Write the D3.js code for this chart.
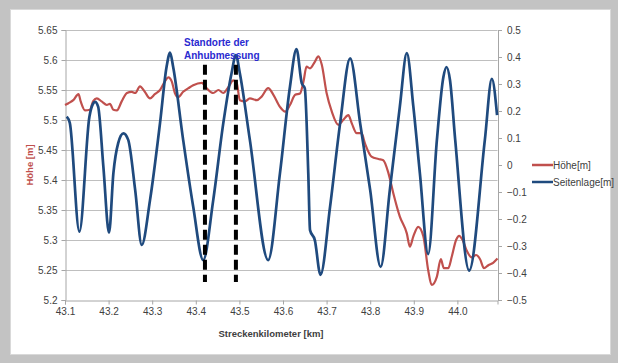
<!DOCTYPE html>
<html>
<head>
<meta charset="utf-8">
<script src="https://cdn.jsdelivr.net/npm/d3@7"></script>
<style>
  body { margin: 0; background: #c3c3c3; }
  svg { display: block; font-family: 'Liberation Sans', Arial, sans-serif; }
</style>
</head>
<body>
<div id="chart"></div>
<script>
// Höhe [m] (left axis) - km / value pairs
const hoeheKm = [43.100, 43.108, 43.119, 43.131, 43.136, 43.146, 43.157, 43.165, 43.173, 43.184,
  43.196, 43.203, 43.211, 43.219, 43.230, 43.242, 43.253, 43.261, 43.272, 43.283,
  43.295, 43.306, 43.318, 43.329, 43.337, 43.345, 43.352, 43.360, 43.371, 43.383,
  43.394, 43.414, 43.425, 43.440, 43.452, 43.463, 43.475, 43.486, 43.494, 43.501,
  43.513, 43.524, 43.540, 43.551, 43.566, 43.578, 43.593, 43.605, 43.616, 43.628,
  43.639, 43.647, 43.654, 43.662, 43.673, 43.681, 43.689, 43.700, 43.712, 43.727,
  43.738, 43.750, 43.758, 43.769, 43.780, 43.788, 43.803, 43.819, 43.830, 43.842,
  43.853, 43.868, 43.884, 43.891, 43.899, 43.910, 43.922, 43.933, 43.941, 43.953,
  43.962, 43.969, 43.979, 43.987, 43.997, 44.004, 44.012, 44.021, 44.033, 44.043,
  44.052, 44.061, 44.071, 44.082, 44.092];
const hoeheVal = [5.525, 5.528, 5.533, 5.543, 5.531, 5.516, 5.517, 5.532, 5.536, 5.531,
  5.525, 5.527, 5.517, 5.516, 5.531, 5.545, 5.547, 5.545, 5.556, 5.547,
  5.536, 5.543, 5.550, 5.564, 5.571, 5.564, 5.545, 5.538, 5.547, 5.553,
  5.558, 5.562, 5.553, 5.545, 5.550, 5.545, 5.555, 5.566, 5.561, 5.533,
  5.531, 5.536, 5.533, 5.539, 5.553, 5.542, 5.522, 5.514, 5.525, 5.542,
  5.544, 5.564, 5.589, 5.586, 5.597, 5.606, 5.592, 5.545, 5.514, 5.492,
  5.500, 5.508, 5.494, 5.478, 5.478, 5.461, 5.439, 5.435, 5.433, 5.411,
  5.378, 5.339, 5.311, 5.289, 5.306, 5.322, 5.306, 5.250, 5.225, 5.239,
  5.268, 5.253, 5.253, 5.272, 5.300, 5.307, 5.300, 5.283, 5.271, 5.275,
  5.268, 5.253, 5.258, 5.262, 5.269];

// Seitenlage [m] (right axis)
const seiteKm = [43.104, 43.111, 43.133, 43.156, 43.165, 43.169, 43.176, 43.188, 43.201, 43.211,
  43.222, 43.234, 43.245, 43.261, 43.276, 43.295, 43.318, 43.333, 43.341, 43.348,
  43.371, 43.394, 43.417, 43.440, 43.463, 43.482, 43.492, 43.501, 43.524, 43.566,
  43.593, 43.616, 43.631, 43.643, 43.650, 43.658, 43.662, 43.673, 43.686, 43.708,
  43.731, 43.754, 43.777, 43.800, 43.824, 43.845, 43.868, 43.884, 43.899, 43.914,
  43.933, 43.953, 43.968, 43.975, 43.983, 43.995, 44.027, 44.063, 44.079, 44.091];
const seiteVal = [0.179, 0.156, -0.247, 0.179, 0.229, 0.234, 0.216, -0.006, -0.251, -0.030,
  0.081, 0.117, 0.093, -0.093, -0.296, -0.130, 0.156, 0.364, 0.416, 0.364,
  0.093, -0.154, -0.352, -0.130, 0.154, 0.340, 0.407, 0.340, 0.093, -0.352,
  -0.031, 0.290, 0.429, 0.303, 0.284, -0.031, -0.241, -0.278, -0.407, -0.154,
  0.154, 0.395, 0.154, -0.093, -0.377, -0.093, 0.216, 0.414, 0.216, -0.031,
  -0.330, 0.093, 0.327, 0.363, 0.315, 0.093, -0.391, 0.093, 0.319, 0.185];

const xTicks = [43.1, 43.2, 43.3, 43.4, 43.5, 43.6, 43.7, 43.8, 43.9, 44.0];
const leftTicks = [5.2, 5.25, 5.3, 5.35, 5.4, 5.45, 5.5, 5.55, 5.6, 5.65];
const rightTicks = [-0.5, -0.4, -0.3, -0.2, -0.1, 0, 0.1, 0.2, 0.3, 0.4, 0.5];

// measurement positions (dashed markers), in km and left-axis units
const markerKm = [43.421, 43.492];
const markerRange = [5.23, 5.592];

const W = 618, H = 363;
const margin = {left: 65, right: 120.5, top: 30, bottom: 63};
const red = '#c0504d', blue = '#1f4a7e', textCol = '#404040';

const x = d3.scaleLinear().domain([43.1, 44.092]).range([margin.left, W - margin.right]);
const yL = d3.scaleLinear().domain([5.2, 5.65]).range([H - margin.bottom, margin.top]);
const yR = d3.scaleLinear().domain([-0.5, 0.5]).range([H - margin.bottom, margin.top]);

const svg = d3.select('#chart').append('svg')
  .attr('width', W)
  .attr('height', H);

svg.append('rect')
  .attr('x', 10.5).attr('y', 9.5)
  .attr('width', 600).attr('height', 345)
  .attr('fill', '#fff')
  .attr('stroke', '#d9d9d9');

// gridlines
svg.append('g')
  .selectAll('line')
  .data(leftTicks.slice(1))
  .join('line')
  .attr('x1', x.range()[0]).attr('x2', x.range()[1])
  .attr('y1', d => Math.round(yL(d)) + 0.5).attr('y2', d => Math.round(yL(d)) + 0.5)
  .attr('stroke', '#bfbfbf');

// axes
const axisL = svg.append('g')
  .attr('transform', `translate(${margin.left + 0.5},0)`)
  .call(d3.axisLeft(yL).tickValues(leftTicks).tickSize(4).tickPadding(4)
    .tickFormat(d => d3.format('')(+d.toFixed(2))));

const axisR = svg.append('g')
  .attr('transform', `translate(${x.range()[1] + 0.5},0)`)
  .call(d3.axisRight(yR).tickValues(rightTicks).tickSize(4).tickPadding(5)
    .tickFormat(d => d3.format('')(+d.toFixed(1))));

const axisB = svg.append('g')
  .attr('transform', `translate(0,${yL(5.2) + 0.5})`)
  .call(d3.axisBottom(x).tickValues(xTicks).tickSize(4).tickPadding(3).tickFormat(d3.format('.1f')));

[axisL, axisR, axisB].forEach(a => {
  a.select('.domain').attr('stroke', '#a6a6a6');
  a.selectAll('.tick line').attr('stroke', '#a6a6a6');
  a.selectAll('text').attr('fill', textCol).style('font-size', '10px');
});

const hoehe = hoeheKm.map((k, i) => ({km: k, v: hoeheVal[i]}));
const seite = seiteKm.map((k, i) => ({km: k, v: seiteVal[i]}));

svg.append('path')
  .datum(hoehe)
  .attr('fill', 'none')
  .attr('stroke', red)
  .attr('stroke-width', 2.2)
  .attr('stroke-linejoin', 'round')
  .attr('d', d3.line().x(d => x(d.km)).y(d => yL(d.v)).curve(d3.curveMonotoneX));

svg.append('path')
  .datum(seite)
  .attr('fill', 'none')
  .attr('stroke', blue)
  .attr('stroke-width', 2.7)
  .attr('stroke-linejoin', 'round')
  .attr('d', d3.line().x(d => x(d.km)).y(d => yR(d.v)).curve(d3.curveMonotoneX));

// dashed markers
svg.append('g')
  .selectAll('line')
  .data(markerKm)
  .join('line')
  .attr('x1', d => x(d)).attr('x2', d => x(d))
  .attr('y1', yL(markerRange[1])).attr('y2', yL(markerRange[0]))
  .attr('stroke', '#000')
  .attr('stroke-width', 4)
  .attr('stroke-dasharray', '10,5');

svg.append('text')
  .attr('x', 184).attr('y', 0)
  .attr('fill', '#2a2ad0')
  .style('font-size', '10px')
  .style('font-weight', 'bold')
  .selectAll('tspan')
  .data(['Standorte der', 'Anhubmessung'])
  .join('tspan')
  .attr('x', 184)
  .attr('y', (d, i) => 46 + i * 12.5)
  .text(d => d);

// axis titles
svg.append('text')
  .attr('transform', 'translate(33,165) rotate(-90)')
  .attr('text-anchor', 'middle')
  .attr('fill', red)
  .style('font-size', '9.5px')
  .style('font-weight', 'bold')
  .text('Höhe [m]');

svg.append('text')
  .attr('x', 271).attr('y', 337)
  .attr('text-anchor', 'middle')
  .attr('fill', textCol)
  .style('font-size', '9.5px')
  .style('font-weight', 'bold')
  .text('Streckenkilometer [km]');

// legend
const legend = svg.append('g')
  .selectAll('g')
  .data([{name: 'Höhe[m]', c: red}, {name: 'Seitenlage[m]', c: blue}])
  .join('g')
  .attr('transform', (d, i) => `translate(532,${165 + i * 17})`);

legend.append('line')
  .attr('x1', 0).attr('x2', 21)
  .attr('stroke', d => d.c)
  .attr('stroke-width', 2.5);

legend.append('text')
  .attr('x', 21).attr('y', 3.5)
  .attr('fill', textCol)
  .style('font-size', '10px')
  .text(d => d.name);
</script>
</body>
</html>
